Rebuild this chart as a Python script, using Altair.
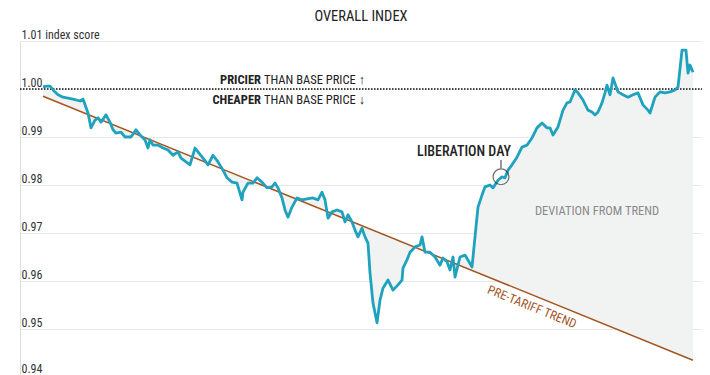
import altair as alt
import pandas as pd

# ---- data (t = day index along the series) ----
T = [0, 3, 7, 11, 15, 20, 25, 30, 37, 40, 45, 48, 52, 55, 58, 63, 67, 70, 73, 78,
     82, 88, 93, 97, 102, 105, 107, 110, 115, 120, 125, 130, 135, 138, 143, 147, 152, 155, 160, 165,
     170, 175, 180, 184, 189, 194, 199, 200, 205, 210, 214, 219, 224, 229, 232, 235, 239, 242, 245, 249,
     254, 259, 264, 270, 275, 279, 282, 285, 289, 294, 299, 302, 305, 309, 312, 315, 319, 322, 325, 327,
     330, 334, 337, 340, 345, 350, 355, 359, 360, 364, 367, 372, 377, 379, 382, 387, 392, 397, 400, 404,
     407, 410, 412, 417, 422, 429, 432, 435, 439, 442, 447, 450, 455, 459, 462, 465, 469, 474, 479, 484,
     489, 494, 499, 504, 507, 510, 515, 520, 524, 527, 532, 535, 540, 545, 549, 552, 555, 559, 562, 564,
     567, 570, 575, 580, 585, 590, 595, 600, 605, 607, 612, 617, 622, 627, 632, 635, 639, 643, 645, 647,
     650]
INDEX = [1.0004, 1.0006, 1.0006, 0.9996, 0.9988, 0.9983, 0.9981, 0.9979, 0.9975, 0.9979,
         0.9950, 0.9919, 0.9935, 0.9940, 0.9931, 0.9946, 0.9931, 0.9915, 0.9908, 0.9910,
         0.9900, 0.9900, 0.9915, 0.9904, 0.9894, 0.9877, 0.9894, 0.9883, 0.9883, 0.9877,
         0.9873, 0.9862, 0.9869, 0.9856, 0.9848, 0.9842, 0.9877, 0.9869, 0.9856, 0.9842,
         0.9862, 0.9848, 0.9831, 0.9815, 0.9806, 0.9804, 0.9769, 0.9785, 0.9804, 0.9804,
         0.9815, 0.9806, 0.9794, 0.9796, 0.9804, 0.9794, 0.9773, 0.9748, 0.9733, 0.9754,
         0.9773, 0.9769, 0.9771, 0.9773, 0.9769, 0.9785, 0.9769, 0.9731, 0.9744, 0.9748,
         0.9744, 0.9723, 0.9738, 0.9723, 0.9706, 0.9692, 0.9710, 0.9692, 0.9679, 0.9617,
         0.9554, 0.9513, 0.9560, 0.9585, 0.9602, 0.9581, 0.9592, 0.9602, 0.9627, 0.9644,
         0.9660, 0.9671, 0.9675, 0.9692, 0.9660, 0.9660, 0.9650, 0.9633, 0.9648, 0.9640,
         0.9623, 0.9650, 0.9608, 0.9650, 0.9654, 0.9629, 0.9692, 0.9754, 0.9779, 0.9796,
         0.9800, 0.9794, 0.9810, 0.9817, 0.9815, 0.9831, 0.9842, 0.9858, 0.9879, 0.9883,
         0.9898, 0.9919, 0.9929, 0.9919, 0.9919, 0.9904, 0.9921, 0.9956, 0.9971, 0.9973,
         0.9998, 0.9992, 0.9977, 0.9956, 0.9952, 0.9946, 0.9952, 0.9971, 0.9992, 1.0008,
         0.9988, 1.0023, 0.9994, 0.9988, 0.9983, 0.9988, 0.9992, 0.9967, 0.9956, 0.9950,
         0.9983, 0.9994, 0.9992, 0.9994, 0.9998, 1.0004, 1.0081, 1.0081, 1.0033, 1.0050,
         1.0035]

TREND_T = [0, 650]
TREND_V = [0.9985, 0.9435]
Y_TICKS = [0.94, 0.95, 0.96, 0.97, 0.98, 0.99, 1.00, 1.01]
BASE = 1.00
LIB_T, LIB_V = 458, 0.9817

FONT = "Liberation Sans Narrow, Roboto Condensed, Roboto, sans-serif"
TEAL = "#1ea2bd"
BROWN = "#a3561f"

df = pd.DataFrame({"t": T, "v": INDEX})
trend_df = pd.DataFrame({"t": TREND_T, "v": TREND_V})

xs = alt.Scale(domain=[-23, 659], nice=False, zero=False)
ys = alt.Scale(domain=[0.94, 1.01], nice=False, zero=False)
X = alt.X("t:Q", scale=xs, axis=None)

slope = (TREND_V[1] - TREND_V[0]) / (TREND_T[1] - TREND_T[0])

area = alt.Chart(df).transform_calculate(
    trend=f"{TREND_V[0]} + ({slope}) * datum.t"
).mark_area(color="#f1f3f3", opacity=1).encode(
    x=X,
    y=alt.Y("v:Q", scale=ys, axis=alt.Axis(
        values=Y_TICKS, grid=True, gridColor="#e8e8e8", gridWidth=1, domain=False,
        ticks=False, labelAlign="left", labelPadding=-1,
        labelBaseline="alphabetic",
        labelOffset={"condition": {"test": "datum.value < 0.945", "value": -5}, "value": -3},
        labelFontSize=12, labelColor="#333",
        labelFont=FONT, labelOverlap=False, title=None,
        labelExpr="datum.value > 1.005 ? '1.01 index score' : format(datum.value, '.2f')")),
    y2="trend:Q",
)

trend = alt.Chart(trend_df).mark_line(color=BROWN, strokeWidth=1.5).encode(
    x=X, y=alt.Y("v:Q", scale=ys))

base = alt.Chart(pd.DataFrame({"v": [BASE]})).mark_rule(
    color="#444", strokeDash=[1.5, 1.5], strokeWidth=2).encode(
    y=alt.Y("v:Q", scale=ys), x=alt.value(0), x2=alt.value(682))

line = alt.Chart(df).mark_line(color=TEAL, strokeWidth=2.8, strokeJoin="round").encode(
    x=X, y=alt.Y("v:Q", scale=ys))

ann_bold = pd.DataFrame({"t": [218, 218], "v": [1.0019, 0.9977], "s": ["PRICIER", "CHEAPER"]})
ann_norm = pd.DataFrame({"t": [221, 221], "v": [1.0019, 0.9977],
                         "s": ["THAN BASE PRICE \u2191", "THAN BASE PRICE \u2193"]})
bold_txt = alt.Chart(ann_bold).mark_text(align="right", baseline="middle", font=FONT,
                                         fontSize=12.5, fontWeight="bold", color="#222").encode(
    x=X, y=alt.Y("v:Q", scale=ys), text="s:N")
norm_txt = alt.Chart(ann_norm).mark_text(align="left", baseline="middle", font=FONT,
                                         fontSize=12.5, color="#222").encode(
    x=X, y=alt.Y("v:Q", scale=ys), text="s:N")

lib_df = pd.DataFrame({"t": [LIB_T], "v": [LIB_V]})
lib_circle = alt.Chart(lib_df).mark_point(shape="circle", size=250, filled=False,
                                          color="#333", strokeWidth=1.2).encode(
    x=X, y=alt.Y("v:Q", scale=ys))
lib_tick = alt.Chart(pd.DataFrame({"t": [LIB_T], "v": [0.9852], "v2": [0.9835]})).mark_rule(
    color="#333", strokeWidth=1).encode(x=X, y=alt.Y("v:Q", scale=ys), y2="v2:Q")
lib_txt = alt.Chart(pd.DataFrame({"t": [421], "v": [0.9869], "s": ["LIBERATION DAY"]})).mark_text(
    align="center", baseline="middle", font=FONT, fontSize=14, fontWeight=500, color="#222").encode(
    x=X, y=alt.Y("v:Q", scale=ys), text="s:N")

dev_txt = alt.Chart(pd.DataFrame({"t": [554], "v": [0.9746], "s": ["DEVIATION FROM TREND"]})).mark_text(
    align="center", baseline="middle", font=FONT, fontSize=12.5, color="#8a8a8a").encode(
    x=X, y=alt.Y("v:Q", scale=ys), text="s:N")

pre_txt = alt.Chart(pd.DataFrame({"t": [489], "v": [0.9546], "s": ["PRE-TARIFF TREND"]})).mark_text(
    align="center", baseline="middle", font=FONT, fontSize=12.5, color=BROWN, angle=22).encode(
    x=X, y=alt.Y("v:Q", scale=ys), text="s:N")

title = alt.Chart(pd.DataFrame({"s": ["OVERALL INDEX"]})).mark_text(
    align="center", baseline="alphabetic", font=FONT, fontSize=14.5, color="#222").encode(
    x=alt.value(341), y=alt.value(-20), text="s:N")

chart = alt.layer(area, trend, base, line, bold_txt, norm_txt, lib_circle, lib_tick, lib_txt,
                  dev_txt, pre_txt, title).properties(
    width=682, height=336,
    autosize=alt.AutoSizeParams(type="none"),
    padding={"left": 12, "top": 33, "right": 0, "bottom": 0},
).configure_view(stroke=None).configure(background="white")

chart.save("out.html", embed_options={"renderer": "svg", "actions": False})
